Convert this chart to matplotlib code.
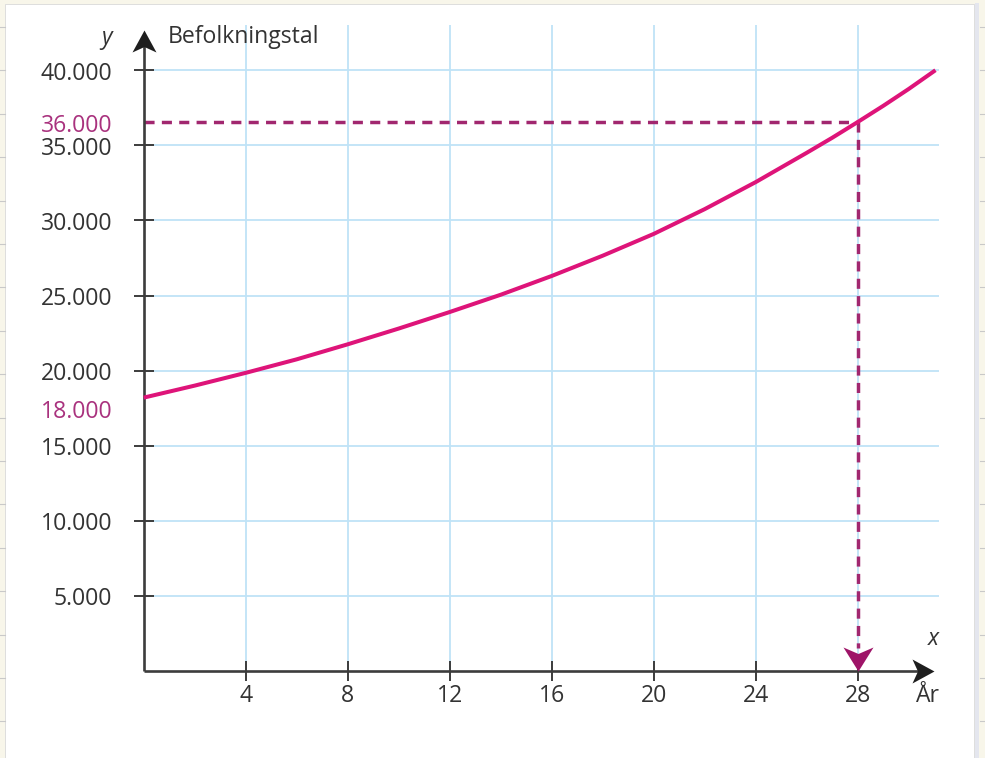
import matplotlib.pyplot as plt
from matplotlib.path import Path
from matplotlib.patches import Rectangle

# Aflæste punkter på kurven (år, befolkningstal)
years = [0, 2, 4, 6, 8, 10, 12, 14, 16, 18, 20, 22, 24, 26, 27, 28, 29, 30, 31.05]
population = [18200, 19000, 19850, 20750, 21750, 22800, 23900, 25050, 26300,
              27650, 29100, 30750, 32550, 34500, 35500, 36550, 37625, 38750, 40000]

x_ticks = [4, 8, 12, 16, 20, 24, 28]
y_ticks = [5000, 10000, 15000, 20000, 25000, 30000, 35000, 40000]
y_tick_labels = ['5.000', '10.000', '15.000', '20.000', '25.000', '30.000', '35.000', '40.000']

target_year = 28
target_label = '36.000'
start_label = '18.000'
start_value = 18000

W, H = 985, 758
DPI = 100

# farver
axis_col = '#3C3C3C'
text_col = '#333333'
grid_col = '#BFE3F7'
curve_col = '#DE1479'
dash_col = '#A1276F'
label_col = '#A9327E'

plt.rcParams['font.family'] = ['Open Sans', 'DejaVu Sans']

fig = plt.figure(figsize=(W / DPI, H / DPI), dpi=DPI, facecolor='#F8F6EA')
# hvid side med ramme
fig.patches.append(Rectangle((5 / W, 0), 969 / W, 754 / H, transform=fig.transFigure,
                             facecolor='white', edgecolor='#D9D9D9', lw=0.6, zorder=-2))
fig.patches.append(Rectangle((975 / W, 0), 4 / W, 755 / H, transform=fig.transFigure,
                             facecolor='#E4E6EE', edgecolor='none', zorder=-2))
for k in range(18):
    yy = 1 - (27 + 43.4 * k) / H
    for x0 in (0, 980):
        fig.lines.append(plt.Line2D([x0 / W, (x0 + 5) / W], [yy, yy], transform=fig.transFigure,
                                    color='#C9C9C9', lw=0.8, zorder=-1))

ax = fig.add_axes([0, 0, 1, 1])
ax.axis('off')
ax.patch.set_visible(False)

# pixel-skala
x0_px, x_scale = 143.7, 25.5
y0_px, y_scale = 671.0, 0.01502
ax.set_xlim(-x0_px / x_scale, (W - x0_px) / x_scale)
ax.set_ylim((y0_px - H) / y_scale, y0_px / y_scale)

grid_right = 31.2
grid_top = 43000
y_arrow_tip = 42700
x_arrow_tip = 31.0

# gitter
ax.hlines(y_ticks, 0, grid_right, color=grid_col, lw=1.3, zorder=1)
ax.vlines(x_ticks, 0, grid_top, color=grid_col, lw=1.3, zorder=1)

# akser
ax.plot([0, 0], [0, y_arrow_tip - 500], color=axis_col, lw=1.9, zorder=4, solid_capstyle='butt')
ax.plot([0, x_arrow_tip - 0.3], [0, 0], color=axis_col, lw=1.9, zorder=4, solid_capstyle='butt')
ax.plot([0] * len(y_ticks), y_ticks, ls='none', marker='_', ms=14.4, mew=1.4, color=axis_col, zorder=4)
ax.plot(x_ticks, [0] * len(x_ticks), ls='none', marker='|', ms=14.4, mew=1.4, color=axis_col, zorder=4)

# pilespidser (spids i origo)
up_head = Path([(0, 0), (-12, -22), (0, -16.5), (12, -22), (0, 0)],
               [Path.MOVETO, Path.LINETO, Path.LINETO, Path.LINETO, Path.CLOSEPOLY])
right_head = Path([(0, 0), (-22, 12), (-16.5, 0), (-22, -12), (0, 0)],
                  [Path.MOVETO, Path.LINETO, Path.LINETO, Path.LINETO, Path.CLOSEPOLY])
down_head = Path([(0, 0), (-15, 24), (0, 17.5), (15, 24), (0, 0)],
                 [Path.MOVETO, Path.LINETO, Path.LINETO, Path.LINETO, Path.CLOSEPOLY])
ax.plot([0], [y_arrow_tip], marker=up_head, ms=44 * 72 / DPI, mew=0, color='#1E1E1E', zorder=6)
ax.plot([x_arrow_tip], [0], marker=right_head, ms=44 * 72 / DPI, mew=0, color='#1E1E1E', zorder=6)

# kurven
ax.plot(years, population, color=curve_col, lw=2.9, solid_capstyle='butt',
        solid_joinstyle='round', zorder=5)

# stiplede hjælpelinjer
target_pop = population[years.index(target_year)]
ax.plot([0, target_year], [target_pop, target_pop], color=dash_col, lw=2.5,
        dashes=(2.9, 2.1), dash_capstyle='butt', zorder=3)
ax.plot([target_year, target_year], [target_pop, 1500], color=dash_col, lw=2.5,
        dashes=(2.9, 2.1), dash_capstyle='butt', zorder=3)
ax.plot([target_year], [0], marker=down_head, ms=48 * 72 / DPI, mew=0, color='#9E1468', zorder=7)

# tal på akserne
fs = 16.6
lab_dx = -31.5 * 72 / DPI
lab_dy = -3.5 * 72 / DPI
for v, lab in zip(y_ticks, y_tick_labels):
    ax.annotate(lab, xy=(0, v), xytext=(lab_dx, lab_dy), textcoords='offset points',
                ha='right', va='center', fontsize=fs, color=text_col)
ax.annotate(target_label, xy=(0, target_pop), xytext=(lab_dx, lab_dy), textcoords='offset points',
            ha='right', va='center', fontsize=fs, color=label_col)
ax.annotate(start_label, xy=(0, start_value), xytext=(lab_dx, -11 * 72 / DPI),
            textcoords='offset points', ha='right', va='center', fontsize=fs, color=label_col)
for v in x_ticks:
    ax.annotate(str(v), xy=(v, 0), xytext=(0, -25 * 72 / DPI), textcoords='offset points',
                ha='center', va='center', fontsize=fs, color=text_col)

# aksetitler
fig.text(107 / W, 1 - 38 / H, 'y', fontsize=fs, style='italic', color=text_col, ha='center', va='center')
fig.text(168 / W, 1 - 43 / H, 'Befolkningstal', fontsize=fs, color=text_col, ha='left', va='baseline')
fig.text(933 / W, 1 - 639 / H, 'x', fontsize=fs, style='italic', color=text_col, ha='center', va='center')
fig.text(928 / W, 1 - 696 / H, 'År', fontsize=fs, color=text_col, ha='center', va='center')

fig.savefig('out.png', dpi=DPI, facecolor=fig.get_facecolor())
